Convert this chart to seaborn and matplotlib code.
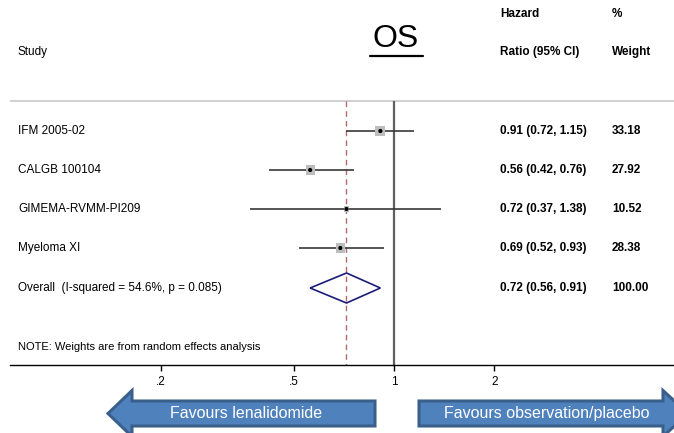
import numpy as np
import pandas as pd
import matplotlib
matplotlib.use("Agg")
import matplotlib.pyplot as plt
from matplotlib.patches import Polygon
import seaborn as sns

# ---------------- data ----------------
studies = ["IFM 2005-02", "CALGB 100104", "GIMEMA-RVMM-PI209", "Myeloma XI"]
hr = [0.91, 0.56, 0.72, 0.69]
lo = [0.72, 0.42, 0.37, 0.52]
hi = [1.15, 0.76, 1.38, 0.93]
weights = [33.18, 27.92, 10.52, 28.38]
overall_label = "Overall  (I-squared = 54.6%, p = 0.085)"
overall_hr, overall_lo, overall_hi = 0.72, 0.56, 0.91
overall_weight = 100.00
tick_vals = [0.2, 0.5, 1, 2]
tick_labels = [".2", ".5", "1", "2"]

sns.set_theme(style="white")
plt.rcParams["font.family"] = ["Liberation Sans", "DejaVu Sans"]
plt.rcParams["text.color"] = "black"
plt.rcParams["xtick.color"] = "black"
plt.rcParams["xtick.labelcolor"] = "black"

W, H = 674, 433
fig = plt.figure(figsize=(W / 100, H / 100), dpi=100)

def fx(px):
    return px / W

def fy(py):
    return 1 - py / H

# axes: pixel x 10..674, pixel y 0..365 (axis line at 365)
ax = fig.add_axes([fx(10), fy(365), fx(664), 365 / H])
ax.set_xscale("log")
ppd = 333.0  # pixels per decade
x0 = 394.0   # pixel position of HR = 1
ax.set_xlim(10 ** ((10 - x0) / ppd), 10 ** ((674 - x0) / ppd))
ax.set_ylim(365, 0)  # y in pixel-like units

row_y0, row_dy = 131, 39
ys = [row_y0 + row_dy * i for i in range(len(studies))]
y_over = row_y0 + row_dy * len(studies) + 1

df = pd.DataFrame({"study": studies, "hr": hr, "lo": lo, "hi": hi,
                   "w": weights, "y": ys})

# reference lines
ax.axhline(101, color="#c8c8c8", lw=1.2, zorder=1)
ax.vlines(1, 101, 365, color="#606060", lw=1.6, zorder=2)
ax.vlines(overall_hr, 101, 365, color="#b46a6a", lw=1.0,
          linestyles=(0, (4, 3)), zorder=2)

# CIs
ax.hlines(df["y"], df["lo"], df["hi"], color="#383838", lw=1.2, zorder=3)

# weight boxes
sns.scatterplot(data=df, x="hr", y="y", size="w",
                sizes=(1.57 * min(weights), 1.57 * max(weights)),
                size_norm=(min(weights), max(weights)),
                marker="s", color="#bdbdbd", edgecolor="none", legend=False, ax=ax, zorder=4)
sns.scatterplot(data=df, x="hr", y="y", marker="o", s=9, color="black",
                edgecolor="none", legend=False, ax=ax, zorder=5)

# overall diamond
dh = 15
diamond = Polygon([(overall_lo, y_over), (overall_hr, y_over - dh),
                   (overall_hi, y_over), (overall_hr, y_over + dh)],
                  closed=True, fill=False, edgecolor="#1c1c7a", lw=1.2, zorder=5)
ax.add_patch(diamond)

# axis styling
for s in ["top", "left", "right"]:
    ax.spines[s].set_visible(False)
ax.spines["bottom"].set_color("black")
ax.spines["bottom"].set_linewidth(1.0)
ax.set_yticks([])
ax.set_xticks(tick_vals)
ax.set_xticklabels(tick_labels)
ax.xaxis.set_minor_locator(matplotlib.ticker.NullLocator())
ax.tick_params(axis="x", direction="out", length=4, width=1.0, color="black",
               labelcolor="black", labelsize=8.5, pad=4, bottom=True)
ax.set_xlabel("")
ax.set_ylabel("")
ax.grid(False)

# ---------------- text ----------------
fs = 8.5
fig.text(fx(18), fy(52), "Study", fontsize=fs, va="center", ha="left")
fig.text(fx(500), fy(14), "Hazard", fontsize=fs, va="center", ha="left", weight="bold")
fig.text(fx(500), fy(52), "Ratio (95% CI)", fontsize=fs, va="center", ha="left", weight="bold")
fig.text(fx(612), fy(14), "%", fontsize=fs, va="center", ha="left", weight="bold")
fig.text(fx(612), fy(52), "Weight", fontsize=fs, va="center", ha="left", weight="bold")

fig.text(fx(396), fy(39), "OS", fontsize=23, va="center", ha="center")
# underline for title
fig.add_artist(plt.Line2D([fx(370), fx(423)], [fy(56), fy(56)], color="black", lw=1.6))

for s_, h_, l_, u_, w_, y_ in zip(studies, hr, lo, hi, weights, ys):
    fig.text(fx(18), fy(y_), s_, fontsize=fs, va="center", ha="left")
    fig.text(fx(500), fy(y_), f"{h_:.2f} ({l_:.2f}, {u_:.2f})", fontsize=fs,
             va="center", ha="left", weight="bold")
    fig.text(fx(612), fy(y_), f"{w_:.2f}", fontsize=fs, va="center", ha="left", weight="bold")

fig.text(fx(18), fy(y_over), overall_label, fontsize=fs, va="center", ha="left")
fig.text(fx(500), fy(y_over), f"{overall_hr:.2f} ({overall_lo:.2f}, {overall_hi:.2f})",
         fontsize=fs, va="center", ha="left", weight="bold")
fig.text(fx(612), fy(y_over), f"{overall_weight:.2f}", fontsize=fs, va="center",
         ha="left", weight="bold")

fig.text(fx(18), fy(347), "NOTE: Weights are from random effects analysis",
         fontsize=fs - 0.5, va="center", ha="left")

# ---------------- favour arrows ----------------
fill_c, edge_c = "#4f81bd", "#3a5f8b"
ay, bh, hh = 413.5, 12.5, 23
left_arrow = [(108, ay), (132, ay - hh), (132, ay - bh), (375, ay - bh),
              (375, ay + bh), (132, ay + bh), (132, ay + hh)]
right_arrow = [(419, ay - bh), (663, ay - bh), (663, ay - hh), (688, ay),
               (663, ay + hh), (663, ay + bh), (419, ay + bh)]
for pts in (left_arrow, right_arrow):
    fig.add_artist(Polygon([(fx(x), fy(y)) for x, y in pts], closed=True,
                           facecolor=fill_c, edgecolor=edge_c, lw=2.2,
                           transform=fig.transFigure))
fig.text(fx(246), fy(ay), "Favours lenalidomide", fontsize=11.5, color="white",
         va="center", ha="center")
fig.text(fx(547), fy(ay), "Favours observation/placebo", fontsize=11.5, color="white",
         va="center", ha="center")

fig.savefig("out.png", dpi=100, facecolor="white")
